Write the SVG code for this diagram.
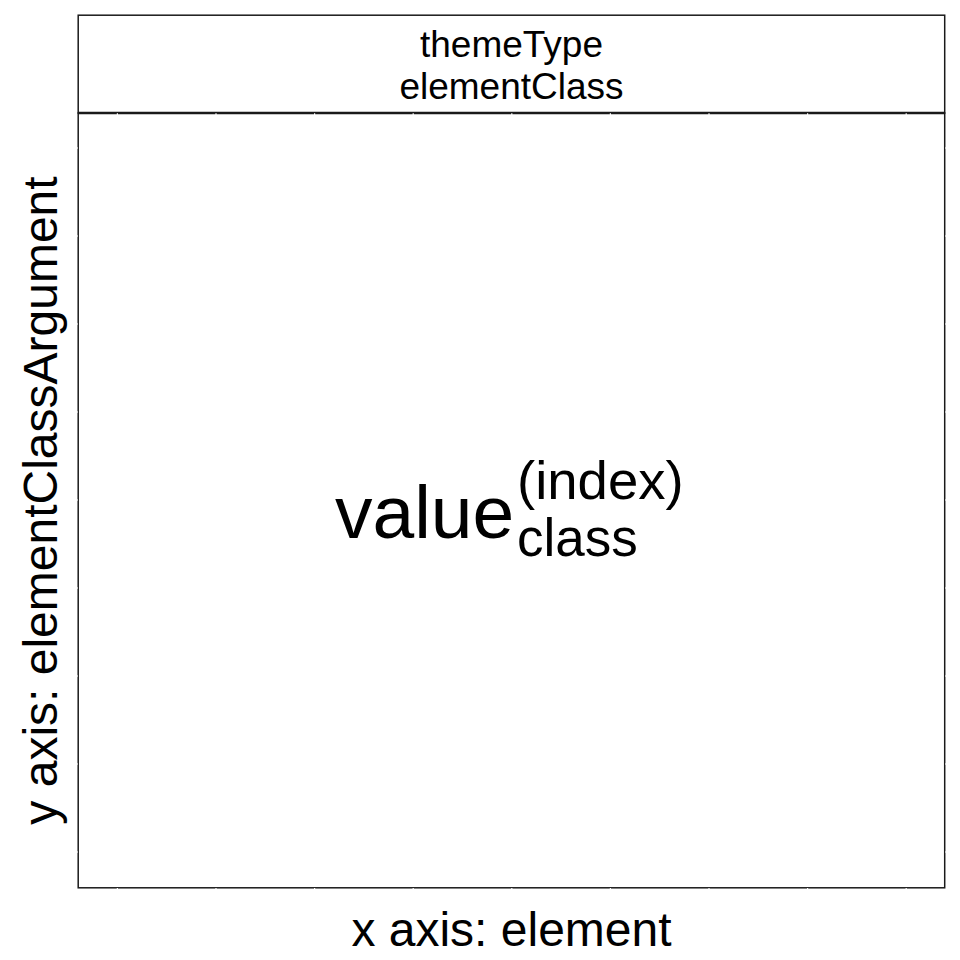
<svg xmlns="http://www.w3.org/2000/svg" width="960" height="960" viewBox="0 0 960 960">
<style>
text{font-family:"Liberation Sans",Arial,sans-serif;fill:#000}
.box{fill:#fff;stroke:#1a1a1a;stroke-width:1.5}
.tk{stroke:#fff;stroke-width:1.2}
</style>
<rect width="960" height="960" fill="#fff"/>
<g id="strip">
<rect class="box" x="78.2" y="15.2" width="866.5" height="97.8"/>
<text x="511.5" y="57" font-size="37" text-anchor="middle">themeType</text>
<text x="511.5" y="99" font-size="37" text-anchor="middle">elementClass</text>
</g>
<g id="panel">
<rect class="box" x="78.2" y="113" width="866.5" height="774.8"/>
<line x1="78.2" y1="113" x2="944.7" y2="113" stroke="#1a1a1a" stroke-width="2.6"/>
<text x="335" y="538" font-size="75">value</text>
<text x="517" y="499" font-size="54.5">(index)</text>
<text x="517" y="556" font-size="53">class</text>
</g>
<g id="ticks">
<path class="tk" d="M117.4,113.2V115M216,113.2V115M314.6,113.2V115M413.2,113.2V115M511.8,113.2V115M610.4,113.2V115M709,113.2V115M807.6,113.2V115M906.2,113.2V115"/>
<path class="tk" d="M117.4,888V891M216,888V891M314.6,888V891M413.2,888V891M511.8,888V891M610.4,888V891M709,888V891M807.6,888V891M906.2,888V891"/>
<path class="tk" d="M75,148H78M75,236H78M75,324H78M75,412H78M75,500H78M75,588H78M75,676H78M75,764H78M75,852H78"/>
<path class="tk" d="M945,148H948M945,236H948M945,324H948M945,412H948M945,500H948M945,588H948M945,676H948M945,764H948M945,852H948"/>
</g>
<g id="labels">
<text x="511.5" y="946" font-size="48" text-anchor="middle">x axis: element</text>
<text transform="translate(57,500.5) rotate(-90)" font-size="48" text-anchor="middle">y axis: elementClassArgument</text>
</g>
</svg>
